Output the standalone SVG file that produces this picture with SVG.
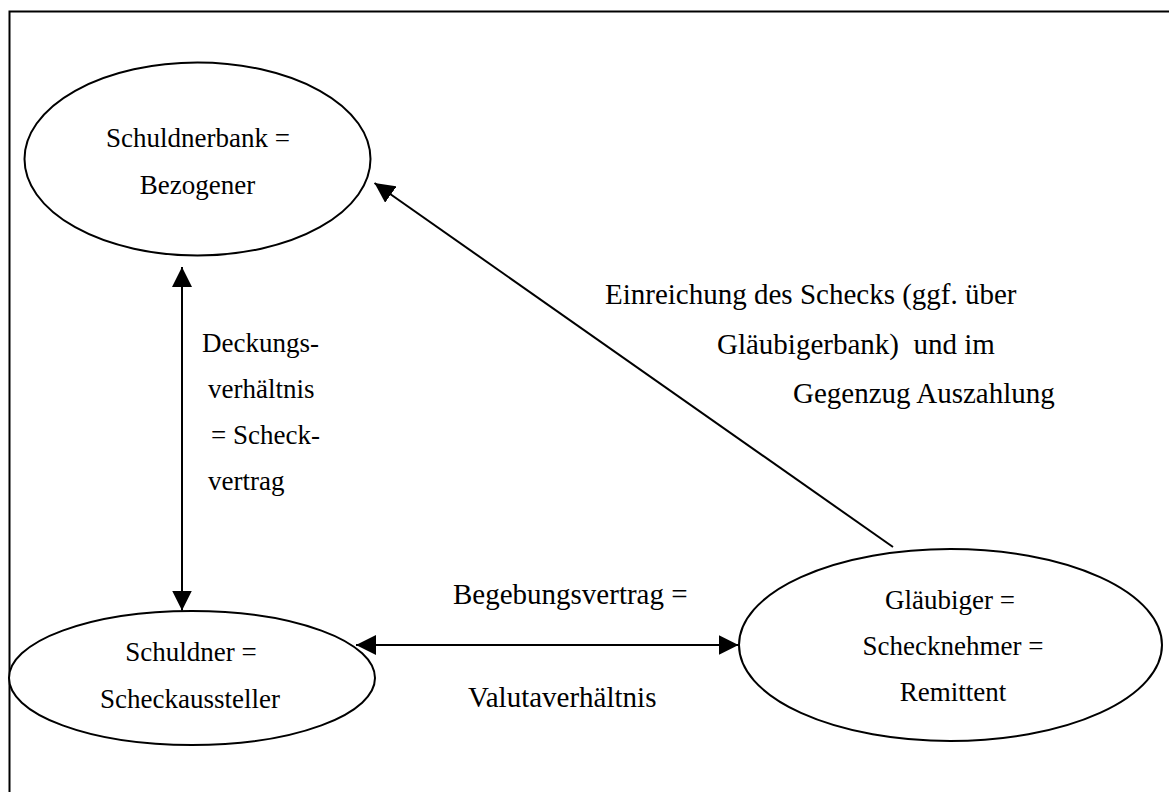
<svg xmlns="http://www.w3.org/2000/svg" width="1169" height="792" viewBox="0 0 1169 792">
  <style>
    .node { fill: #ffffff; stroke: #000000; stroke-width: 2; }
    .lbl { font-family: "Liberation Serif", "Times New Roman", serif; font-size: 27px; fill: #000000; }
    .big { font-size: 29px; }
    .mid { text-anchor: middle; }
    .edge { fill: none; stroke: #000000; stroke-width: 2; }
    .frame { fill: none; stroke: #000000; stroke-width: 2; }
  </style>
  <defs>
    <marker id="arrow" markerUnits="userSpaceOnUse" markerWidth="20" markerHeight="20" viewBox="0 0 20 20" refX="20" refY="10" orient="auto-start-reverse">
      <path d="M0,0 L20,10 L0,20 Z" fill="#000000"/>
    </marker>
  </defs>

  <rect width="1169" height="792" fill="#ffffff"/>

  <!-- page frame: top and left edges only -->
  <path class="frame" d="M9.5,792 L9.5,11.5 L1169,11.5"/>

  <g id="schuldnerbank">
    <ellipse class="node" cx="197.5" cy="159" rx="173" ry="96.5"/>
    <text class="lbl mid" x="198" y="147">Schuldnerbank =</text>
    <text class="lbl mid" x="197.5" y="194">Bezogener</text>
  </g>

  <g id="schuldner">
    <ellipse class="node" cx="192" cy="678" rx="183" ry="67"/>
    <text class="lbl mid" x="191" y="661">Schuldner =</text>
    <text class="lbl mid" x="190" y="708">Scheckaussteller</text>
  </g>

  <g id="glaeubiger">
    <ellipse class="node" cx="950.5" cy="645" rx="211.5" ry="96"/>
    <text class="lbl mid" x="950" y="609">Gläubiger =</text>
    <text class="lbl mid" x="953" y="655">Schecknehmer =</text>
    <text class="lbl mid" x="953" y="701">Remittent</text>
  </g>

  <g id="connectors">
    <!-- Deckungsverhältnis: both directions -->
    <line class="edge" x1="182" y1="267" x2="182" y2="610.5" marker-start="url(#arrow)" marker-end="url(#arrow)"/>
    <!-- Valutaverhältnis: both directions -->
    <line class="edge" x1="356" y1="645" x2="738.5" y2="645" marker-start="url(#arrow)" marker-end="url(#arrow)"/>
    <!-- Einreichung: from creditor to drawee bank -->
    <line class="edge" x1="893" y1="547" x2="374.5" y2="183" marker-end="url(#arrow)"/>
  </g>

  <g id="edge-labels">
    <text class="lbl" x="202" y="352">Deckungs-</text>
    <text class="lbl" x="208" y="398">verhältnis</text>
    <text class="lbl" x="211" y="444">= Scheck-</text>
    <text class="lbl" x="208" y="490">vertrag</text>

    <text class="lbl big" x="605" y="304">Einreichung des Schecks (ggf. über</text>
    <text class="lbl big" x="717" y="354" xml:space="preserve">Gläubigerbank)  und im</text>
    <text class="lbl big" x="793" y="403">Gegenzug Auszahlung</text>

    <text class="lbl big" x="453" y="604">Begebungsvertrag =</text>
    <text class="lbl big" x="468" y="707">Valutaverhältnis</text>
  </g>
</svg>
